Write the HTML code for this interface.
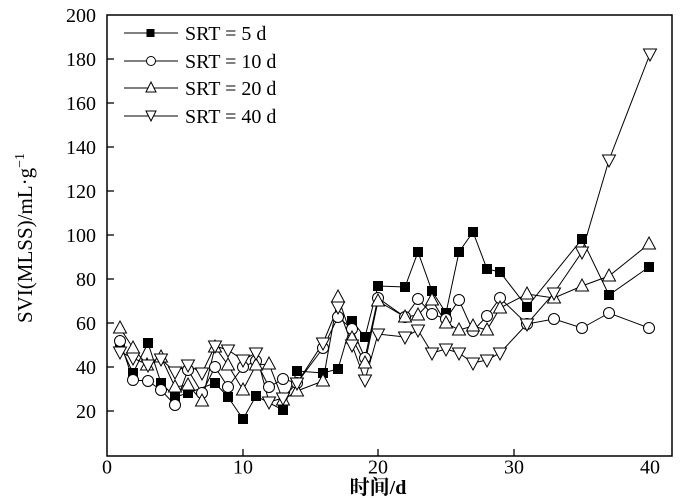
<!DOCTYPE html><html><head><style>body{margin:0;background:#fff}svg{display:block}text{font-family:"Liberation Serif","Noto Serif CJK SC",serif;fill:#000}</style></head><body>
<svg width="700" height="498" xmlns="http://www.w3.org/2000/svg">
<defs>
<rect id="sq" x="-5" y="-5" width="10" height="10" fill="#000"/>
<circle id="ci" r="5.5" fill="#fff" stroke="#000" stroke-width="1"/>
<path id="tu" d="M0,-7 L6.5,5 L-6.5,5Z" fill="#fff" stroke="#000" stroke-width="1"/>
<path id="td" d="M0,7 L6.5,-5 L-6.5,-5Z" fill="#fff" stroke="#000" stroke-width="1"/>
</defs>
<rect x="107" y="15" width="565" height="441" fill="none" stroke="#000" stroke-width="1.5"/>
<g stroke="#000" stroke-width="1.3">
<line x1="107" y1="59" x2="114" y2="59"/><line x1="107" y1="103" x2="114" y2="103"/><line x1="107" y1="147" x2="114" y2="147"/><line x1="107" y1="191" x2="114" y2="191"/><line x1="107" y1="235" x2="114" y2="235"/><line x1="107" y1="279" x2="114" y2="279"/><line x1="107" y1="323" x2="114" y2="323"/><line x1="107" y1="367" x2="114" y2="367"/><line x1="107" y1="411" x2="114" y2="411"/>
<line x1="243" y1="456" x2="243" y2="449"/><line x1="378" y1="456" x2="378" y2="449"/><line x1="514" y1="456" x2="514" y2="449"/>
</g>
<g font-size="20" text-anchor="end">
<text x="96" y="22">200</text><text x="96" y="66">180</text><text x="96" y="110">160</text><text x="96" y="154">140</text><text x="96" y="198">120</text><text x="96" y="242">100</text><text x="96" y="286">80</text><text x="96" y="330">60</text><text x="96" y="374">40</text><text x="96" y="418">20</text>
</g>
<g font-size="20" text-anchor="middle">
<text x="107" y="460" style="dominant-baseline:hanging">0</text><text x="243" y="460" style="dominant-baseline:hanging">10</text><text x="378" y="460" style="dominant-baseline:hanging">20</text><text x="514" y="460" style="dominant-baseline:hanging">30</text><text x="650" y="460" style="dominant-baseline:hanging">40</text>
<text x="378" y="494" font-weight="bold">时间/d</text>
</g>
<text transform="translate(32,238) rotate(-90)" font-size="21" text-anchor="middle">SVI(MLSS)/mL·g<tspan dy="-8" font-size="14">−1</tspan></text>
<g fill="none" stroke="#000" stroke-width="1">
<polyline points="120,345 133,373 148,343 161,383 175,397 188,393 215,383 228,397 243,419 256,396 283,410 297,371 323,373 338,369 352,321 365,337 378,286 405,287 418,252 432,291 446,313 459,252 473,232 487,269 500,272 527,307 582,239 609,295 649,267"/>
<polyline points="120,341 133,380 148,381 161,390 175,405 188,370 202,393 215,367 228,387 243,367 256,361 269,387 283,379 297,383 323,348 338,317 352,329 365,358 378,298 405,317 418,299 432,314 446,319 459,300 473,331 487,316 500,298 527,324 554,319 582,328 609,313 649,328"/>
<polyline points="120,328 133,348 147,365 161,357 175,387 188,385 202,401 215,347 228,365 243,390 256,365 269,364 283,400 297,391 323,381 338,297 352,338 365,363 378,301 405,317 418,315 432,300 446,323 459,330 473,326 487,330 500,308 527,294 554,298 582,286 609,276 649,244"/>
<polyline points="120,352 133,358 148,365 161,359 175,372 188,365 202,373 215,346 228,350 243,360 256,353 269,402 283,398 297,383 323,343 338,307 352,345 365,380 378,334 405,337 418,330 432,353 446,349 459,353 473,363 487,360 500,353 527,324 554,293 582,252 609,160 650,54"/>
</g>
<g>
<use href="#sq" x="120" y="345"/><use href="#sq" x="133" y="373"/><use href="#sq" x="148" y="343"/><use href="#sq" x="161" y="383"/><use href="#sq" x="175" y="397"/><use href="#sq" x="188" y="393"/><use href="#sq" x="215" y="383"/><use href="#sq" x="228" y="397"/><use href="#sq" x="243" y="419"/><use href="#sq" x="256" y="396"/><use href="#sq" x="283" y="410"/><use href="#sq" x="297" y="371"/><use href="#sq" x="323" y="373"/><use href="#sq" x="338" y="369"/><use href="#sq" x="352" y="321"/><use href="#sq" x="365" y="337"/><use href="#sq" x="378" y="286"/><use href="#sq" x="405" y="287"/><use href="#sq" x="418" y="252"/><use href="#sq" x="432" y="291"/><use href="#sq" x="446" y="313"/><use href="#sq" x="459" y="252"/><use href="#sq" x="473" y="232"/><use href="#sq" x="487" y="269"/><use href="#sq" x="500" y="272"/><use href="#sq" x="527" y="307"/><use href="#sq" x="582" y="239"/><use href="#sq" x="609" y="295"/><use href="#sq" x="649" y="267"/>
<use href="#ci" x="120" y="341"/><use href="#ci" x="133" y="380"/><use href="#ci" x="148" y="381"/><use href="#ci" x="161" y="390"/><use href="#ci" x="175" y="405"/><use href="#ci" x="188" y="370"/><use href="#ci" x="202" y="393"/><use href="#ci" x="215" y="367"/><use href="#ci" x="228" y="387"/><use href="#ci" x="243" y="367"/><use href="#ci" x="256" y="361"/><use href="#ci" x="269" y="387"/><use href="#ci" x="283" y="379"/><use href="#ci" x="297" y="383"/><use href="#ci" x="323" y="348"/><use href="#ci" x="338" y="317"/><use href="#ci" x="352" y="329"/><use href="#ci" x="365" y="358"/><use href="#ci" x="378" y="298"/><use href="#ci" x="405" y="317"/><use href="#ci" x="418" y="299"/><use href="#ci" x="432" y="314"/><use href="#ci" x="446" y="319"/><use href="#ci" x="459" y="300"/><use href="#ci" x="473" y="331"/><use href="#ci" x="487" y="316"/><use href="#ci" x="500" y="298"/><use href="#ci" x="527" y="324"/><use href="#ci" x="554" y="319"/><use href="#ci" x="582" y="328"/><use href="#ci" x="609" y="313"/><use href="#ci" x="649" y="328"/>
<use href="#tu" x="120" y="328"/><use href="#tu" x="133" y="348"/><use href="#tu" x="147" y="365"/><use href="#tu" x="161" y="357"/><use href="#tu" x="175" y="387"/><use href="#tu" x="188" y="385"/><use href="#tu" x="202" y="401"/><use href="#tu" x="215" y="347"/><use href="#tu" x="228" y="365"/><use href="#tu" x="243" y="390"/><use href="#tu" x="256" y="365"/><use href="#tu" x="269" y="364"/><use href="#tu" x="283" y="400"/><use href="#tu" x="297" y="391"/><use href="#tu" x="323" y="381"/><use href="#tu" x="338" y="297"/><use href="#tu" x="352" y="338"/><use href="#tu" x="365" y="363"/><use href="#tu" x="378" y="301"/><use href="#tu" x="405" y="317"/><use href="#tu" x="418" y="315"/><use href="#tu" x="432" y="300"/><use href="#tu" x="446" y="323"/><use href="#tu" x="459" y="330"/><use href="#tu" x="473" y="326"/><use href="#tu" x="487" y="330"/><use href="#tu" x="500" y="308"/><use href="#tu" x="527" y="294"/><use href="#tu" x="554" y="298"/><use href="#tu" x="582" y="286"/><use href="#tu" x="609" y="276"/><use href="#tu" x="649" y="244"/>
<use href="#td" x="120" y="352"/><use href="#td" x="133" y="358"/><use href="#td" x="148" y="365"/><use href="#td" x="161" y="359"/><use href="#td" x="175" y="372"/><use href="#td" x="188" y="365"/><use href="#td" x="202" y="373"/><use href="#td" x="215" y="346"/><use href="#td" x="228" y="350"/><use href="#td" x="243" y="360"/><use href="#td" x="256" y="353"/><use href="#td" x="269" y="402"/><use href="#td" x="283" y="398"/><use href="#td" x="297" y="383"/><use href="#td" x="323" y="343"/><use href="#td" x="338" y="307"/><use href="#td" x="352" y="345"/><use href="#td" x="365" y="380"/><use href="#td" x="378" y="334"/><use href="#td" x="405" y="337"/><use href="#td" x="418" y="330"/><use href="#td" x="432" y="353"/><use href="#td" x="446" y="349"/><use href="#td" x="459" y="353"/><use href="#td" x="473" y="363"/><use href="#td" x="487" y="360"/><use href="#td" x="500" y="353"/><use href="#td" x="527" y="324"/><use href="#td" x="554" y="293"/><use href="#td" x="582" y="252"/><use href="#td" x="609" y="160"/><use href="#td" x="650" y="54"/>
</g>
<g stroke="#000" stroke-width="1">
<line x1="124" y1="33" x2="178" y2="33"/><line x1="124" y1="61" x2="178" y2="61"/><line x1="124" y1="88" x2="178" y2="88"/><line x1="124" y1="116" x2="178" y2="116"/>
</g>
<rect x="146.5" y="29" width="8" height="8" fill="#000"/>
<circle cx="151" cy="61" r="4.5" fill="#fff" stroke="#000"/>
<path d="M151,82 L156,92 L146,92Z" fill="#fff" stroke="#000"/>
<path d="M151,121 L156,111 L146,111Z" fill="#fff" stroke="#000"/>
<g font-size="20">
<text x="185" y="40">SRT = 5 d</text><text x="185" y="68">SRT = 10 d</text><text x="185" y="95">SRT = 20 d</text><text x="185" y="123">SRT = 40 d</text>
</g>
</svg>
</body></html>
